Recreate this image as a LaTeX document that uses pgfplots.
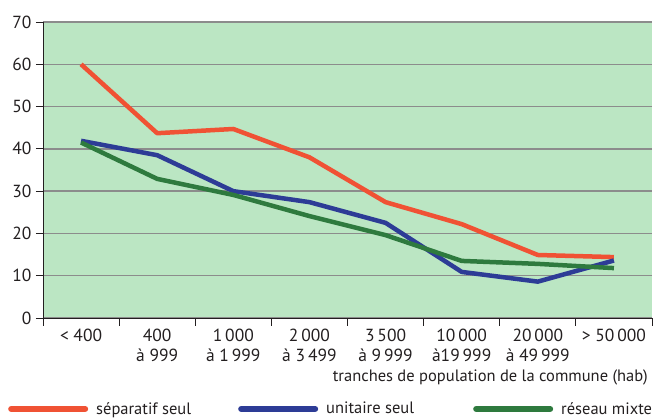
\documentclass[border=0pt]{standalone}
\usepackage{fontspec}
\setmainfont{PT Sans}
\usepackage{pgfplots}
\pgfplotsset{compat=1.18}
\definecolor{bgcol}{RGB}{187,230,195}
\definecolor{cred}{RGB}{240,82,52}
\definecolor{cblue}{RGB}{45,60,150}
\definecolor{cgreen}{RGB}{46,122,62}
\definecolor{gridc}{RGB}{140,140,140}
\definecolor{txt}{RGB}{35,31,32}
\begin{document}
\begin{tikzpicture}
\begin{axis}[
  scale only axis,
  width=609pt, height=296pt,
  xmin=0, xmax=8, ymin=0, ymax=70,
  axis x line*=bottom, axis y line*=left,
  axis line style={txt, line width=0.9pt},
  axis background/.style={fill=bgcol},
  ytick={0,10,...,70},
  ymajorgrids,
  major grid style={gridc, line width=1.3pt},
  xtick={0.5,1.5,...,7.5},
  xticklabels={{< 400},{400\\à 999},{1\,000\\à 1\,999},{2\,000\\à 3\,499},{3\,500\\à 9\,999},{10\,000\\à19\,999},{20\,000\\à 49\,999},{> 50\,000}},
  minor xtick={0,1,...,8},
  major x tick style={draw=none},
  minor x tick style={txt, line width=0.9pt},
  minor tick length=8pt,
  major tick length=7pt,
  y tick style={txt, line width=0.9pt},
  tick align=outside,
  /pgf/number format/assume math mode=true,
  ticklabel style={font=\fontsize{17.5}{20}\selectfont, text=txt},
  xticklabel style={align=center, yshift=-1pt},
  yticklabel style={xshift=-1pt},
  xlabel={tranches de population de la commune (hab)},
  xlabel style={font=\fontsize{16.5}{19}\selectfont, text=txt, at={(axis description cs:1,0)}, anchor=north east, yshift=-52pt, inner sep=0pt, xshift=-4pt},
  legend columns=3,
  legend style={draw=none, fill=none, at={(axis description cs:-0.0575,-0.307)}, anchor=west, inner sep=0pt,
    font=\fontsize{16.5}{19}\selectfont, text=txt,
    /tikz/every even column/.append style={column sep=0pt}},
  legend image code/.code={\draw[#1, line width=6pt, line cap=round] (3pt,0pt) -- (77pt,0pt);},
  every axis plot/.append style={line width=4.5pt, line join=round},
]
\addplot[cred] coordinates {(0.5,60) (1.5,43.7) (2.5,44.7) (3.5,38) (4.5,27.4) (5.5,22.2) (6.5,14.9) (7.5,14.4)};
\addplot[cblue] coordinates {(0.5,41.9) (1.5,38.5) (2.5,30) (3.5,27.4) (4.5,22.5) (5.5,10.9) (6.5,8.6) (7.5,13.6)};
\addplot[cgreen] coordinates {(0.5,41.5) (1.5,32.9) (2.5,29.1) (3.5,24.1) (4.5,19.6) (5.5,13.5) (6.5,12.8) (7.5,11.8)};
\legend{\makebox[146pt][l]{\hspace{6pt}séparatif seul},\makebox[151pt][l]{\hspace{6pt}unitaire seul},\makebox[100pt][l]{\hspace{6pt}réseau mixte}}
\end{axis}
\pgfresetboundingbox
\useasboundingbox (-43pt,-101pt) rectangle (610pt,318pt);
\end{tikzpicture}
\end{document}
